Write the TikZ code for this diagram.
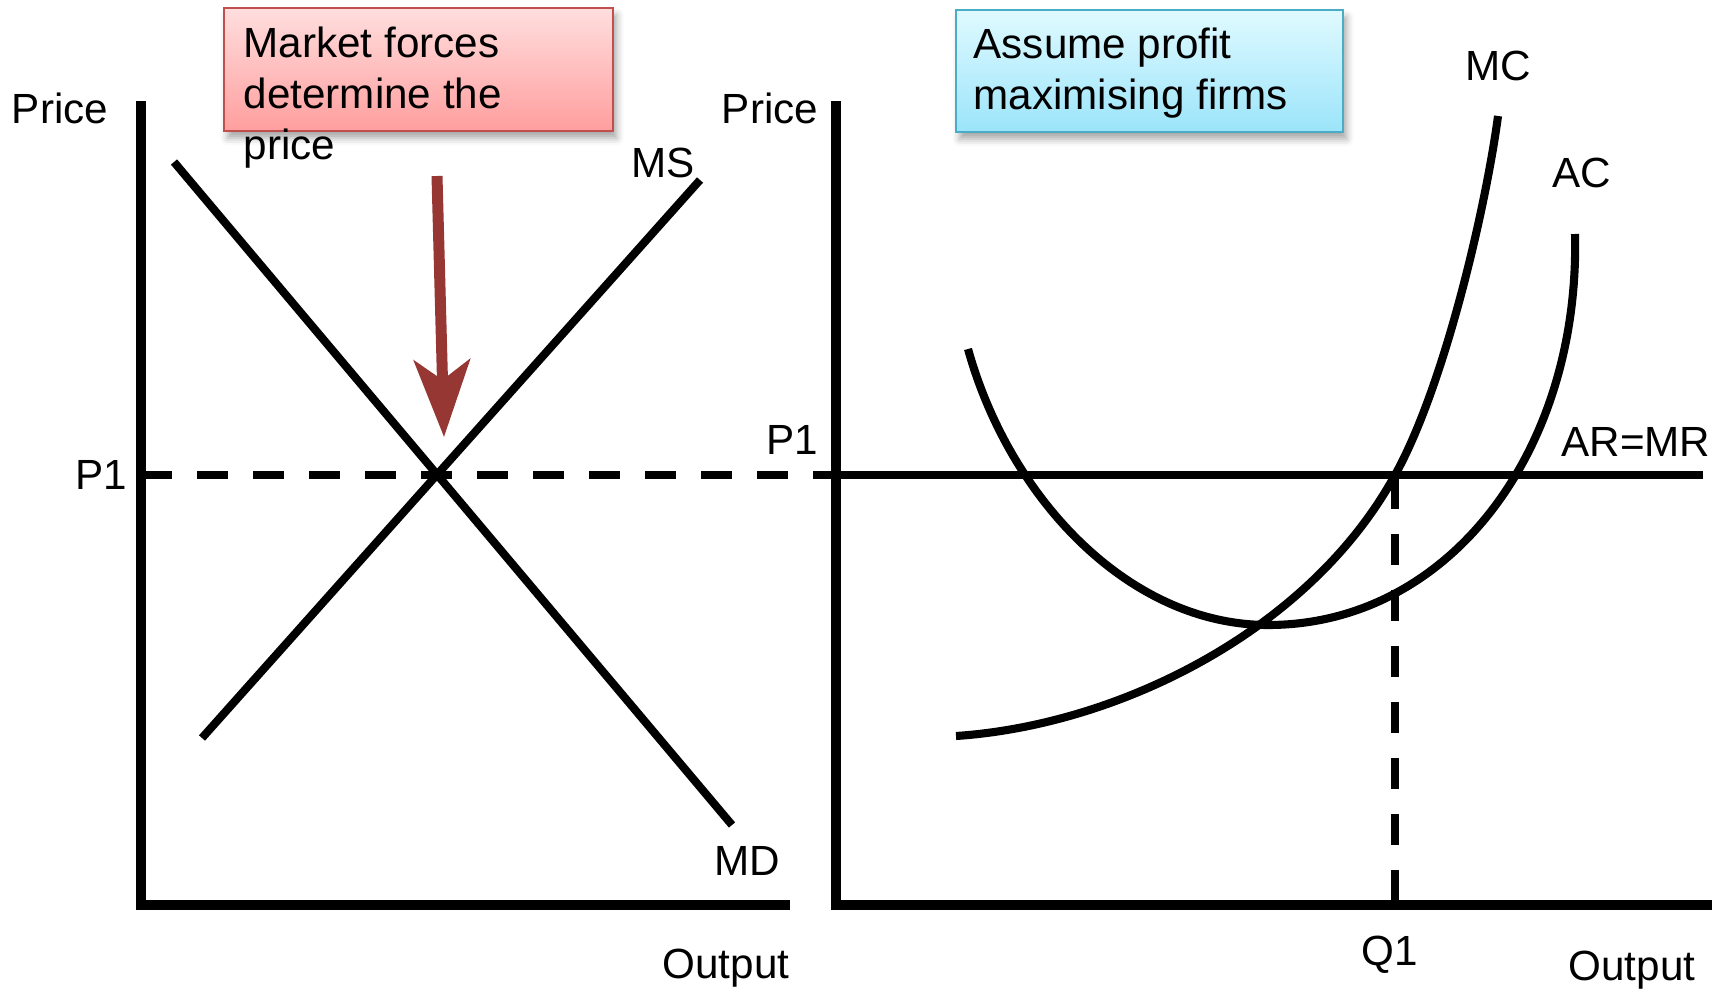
\documentclass[tikz,border=0pt]{standalone}
\usepackage{fontspec}
\setmainfont{Liberation Sans}
\usetikzlibrary{arrows.meta,positioning,calc,shadows.blur}
\tikzset{
  axisln/.style={line width=2.6pt},
  curveln/.style={line width=2.3pt, line join=round},
  projln/.style={line width=2.3pt, dash pattern=on 0.31cm off 0.25cm},
  lbl/.style={font=\fontsize{12}{14.5}\selectfont, inner sep=0pt},
  notebox/.style={line width=0.7pt, blur shadow={shadow xshift=1pt, shadow yshift=-2pt, shadow blur radius=2pt, shadow opacity=35}},
  forceln/.style={-{Stealth[length=0.77cm, width=0.56cm, inset=0.2cm]}, line width=0.11cm},
}
\definecolor{forcecolor}{RGB}{150,55,52}
\definecolor{redtop}{RGB}{255,222,222}
\definecolor{redbot}{RGB}{255,158,158}
\definecolor{rededge}{RGB}{192,80,77}
\definecolor{bluetop}{RGB}{224,250,255}
\definecolor{bluebot}{RGB}{155,228,250}
\definecolor{blueedge}{RGB}{75,172,198}

\begin{document}
\begin{tikzpicture}[x=0.01cm, y=-0.01cm]
      \useasboundingbox (0,0) rectangle (1725,991);
      % market: axes, P1 guide, MS and MD
      \draw[axisln] (141,101) -- (141,905) -- (790,905);
      \draw[projln] (141,475) -- (836,475);
      \draw[curveln] (174,162) -- (732,825);
      \draw[curveln] (202,738) -- (700,180);
      \coordinate (eq) at (444,437);
      \coordinate (forcetop) at (437,176);
      \draw[forceln, forcecolor] (forcetop) -- (eq);
      \path[notebox, draw=rededge, top color=redtop, bottom color=redbot] (224,8) rectangle (613,131);
      \node[lbl, anchor=north west, align=left] (forces) at (243,26) {Market forces\\determine the\\price};
      \node[lbl] (pricea) at (60,108) {Price};
      \node[lbl] (p1a) at (101,475) {P1};
      \node[lbl] (ms) at (663,163) {MS};
      \node[lbl] (md) at (747,861) {MD};
      \node[lbl] (outa) at (726,968) {Output};
      % firm: axes, AR=MR, Q1 guide
      \draw[axisln] (836,101) -- (836,905) -- (1712,905);
      \draw[curveln] (836,475) -- (1703,475);
      \draw[projln] (1395,478) -- (1395,905);
      % cost curves (MC cuts AC at its lowest point)
      \draw[curveln] (956,736) .. controls (1120,725) and (1310,630) .. (1395,475)
                               .. controls (1445,385) and (1486,206) .. (1498,116);
      \draw[curveln] (968,349) .. controls (1010,500) and (1130,625) .. (1268,625)
                               .. controls (1450,625) and (1580,450) .. (1575,234);
      \path[notebox, draw=blueedge, top color=bluetop, bottom color=bluebot] (956,10) rectangle (1343,132);
      \node[lbl, anchor=north west, align=left] (assume) at (973,27) {Assume profit\\maximising firms};
      \node[lbl] (priceb) at (770,108) {Price};
      \node[lbl] (p1b) at (792,440) {P1};
      \node[lbl] (mc) at (1498,66) {MC};
      \node[lbl] (ac) at (1582,173) {AC};
      \node[lbl] (armr) at (1636,442) {AR=MR};
      \node[lbl] (q1) at (1390,955) {Q1};
      \node[lbl] (outb) at (1632,970) {Output};
    \end{tikzpicture}
\end{document}
